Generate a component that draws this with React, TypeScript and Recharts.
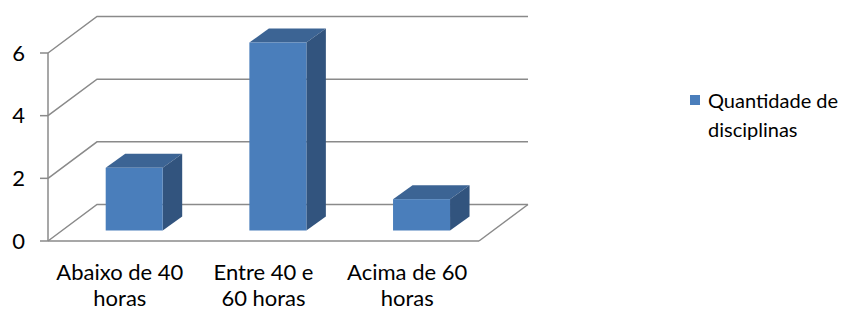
import React from "react"
import { BarChart, Bar, XAxis, YAxis, CartesianGrid, Legend } from "recharts"

const categories = ["Abaixo de 40 horas", "Entre 40 e 60 horas", "Acima de 60 horas"]
const categoryLines = [
  ["Abaixo de 40", "horas"],
  ["Entre 40 e", "60 horas"],
  ["Acima de 60", "horas"],
]
const quantidade = [2, 6, 1]
const yTicks = [0, 2, 4, 6]
const seriesName = "Quantidade de disciplinas"

const data = categories.map((name, i) => ({ name, value: quantidade[i] }))

const FONT = "Lato, 'Open Sans', sans-serif"
const GRID = "#8a8a8a"
const FRONT = "#4a7ebb"
const TOP = "#3c6494"
const SIDE = "#32547e"

// perspective offsets (back wall, bar front inset, bar depth)
const DX = 49
const DY = 36.5
const FX = 14.7
const FY = 10.5
const BX = 19.5
const BY = 14

const WallLine = (p: any) => {
  const { x1, x2, y1, y, height } = p
  const isFloor = Math.abs(y1 - (y + height)) < 0.5
  return (
    <g key={p.key}>
      <path
        d={`M${x1},${y1} L${x1 + DX},${y1 - DY} L${x2 + DX},${y1 - DY}`}
        fill="none"
        stroke={GRID}
        strokeWidth={1.5}
      />
      {isFloor && (
        <path d={`M${x2},${y1} L${x2 + DX},${y1 - DY}`} fill="none" stroke={GRID} strokeWidth={1.5} />
      )}
    </g>
  )
}

const Box3D = (props: any) => {
  const { x, y, width, height } = props
  const fx = x + FX
  const fy = y - FY
  const bottom = fy + height
  return (
    <g>
      <path
        d={`M${fx},${fy} L${fx + BX},${fy - BY} L${fx + width + BX},${fy - BY} L${fx + width},${fy} Z`}
        fill={TOP}
      />
      <path
        d={`M${fx + width},${fy} L${fx + width + BX},${fy - BY} L${fx + width + BX},${bottom - BY} L${fx + width},${bottom} Z`}
        fill={SIDE}
      />
      <rect x={fx} y={fy} width={width} height={height} fill={FRONT} />
    </g>
  )
}

const CategoryTick = (props: any) => {
  const { x, y, payload } = props
  const lines = categoryLines[payload.index] || [payload.value]
  return (
    <text x={x} y={y} textAnchor="middle" fontFamily={FONT} fontSize={22} fill="#000">
      {lines.map((l: string, i: number) => (
        <tspan key={i} x={x} dy={i === 0 ? 38.5 : 26.5}>
          {l}
        </tspan>
      ))}
    </text>
  )
}

const LegendContent = (props: any) => {
  const item = (props.payload && props.payload[0]) || { value: seriesName, color: FRONT }
  return (
    <div
      style={{
        display: "flex",
        alignItems: "flex-start",
        fontFamily: FONT,
        fontSize: 20,
        lineHeight: "29px",
        color: "#000",
      }}
    >
      <span
        style={{ width: 10, height: 10, background: FRONT, marginTop: 9.5, marginRight: 8, flex: "none" }}
      />
      <span style={{ width: 140 }}>{item.value}</span>
    </div>
  )
}

export default function App() {
  return (
    <div style={{ position: "absolute", left: 0, top: 0, background: "#fff" }}>
      <BarChart width={843} height={311} data={data} margin={{ top: 53, right: 364, bottom: 0, left: 0 }}>
        <CartesianGrid vertical={false} horizontal={(p: any) => <WallLine {...p} />} />
        <XAxis
          dataKey="name"
          height={70}
          interval={0}
          tickLine={false}
          tickSize={0}
          tickMargin={0}
          axisLine={{ stroke: GRID, strokeWidth: 1.5 }}
          tick={<CategoryTick />}
        />
        <YAxis
          width={48}
          domain={[0, 6]}
          ticks={yTicks}
          tickSize={8}
          tickMargin={15}
          axisLine={{ stroke: GRID, strokeWidth: 1.5 }}
          tickLine={{ stroke: GRID, strokeWidth: 1.5 }}
          tick={{ fontFamily: FONT, fontSize: 22, fill: "#000" }}
        />
        <Legend
          layout="horizontal"
          align="center"
          verticalAlign="middle"
          content={<LegendContent />}
          wrapperStyle={{ left: 690, top: 85.5, width: 153, right: "auto" }}
        />
        <Bar
          dataKey="value"
          name={seriesName}
          fill={FRONT}
          barSize={57}
          shape={<Box3D />}
          isAnimationActive={false}
        />
      </BarChart>
    </div>
  )
}
